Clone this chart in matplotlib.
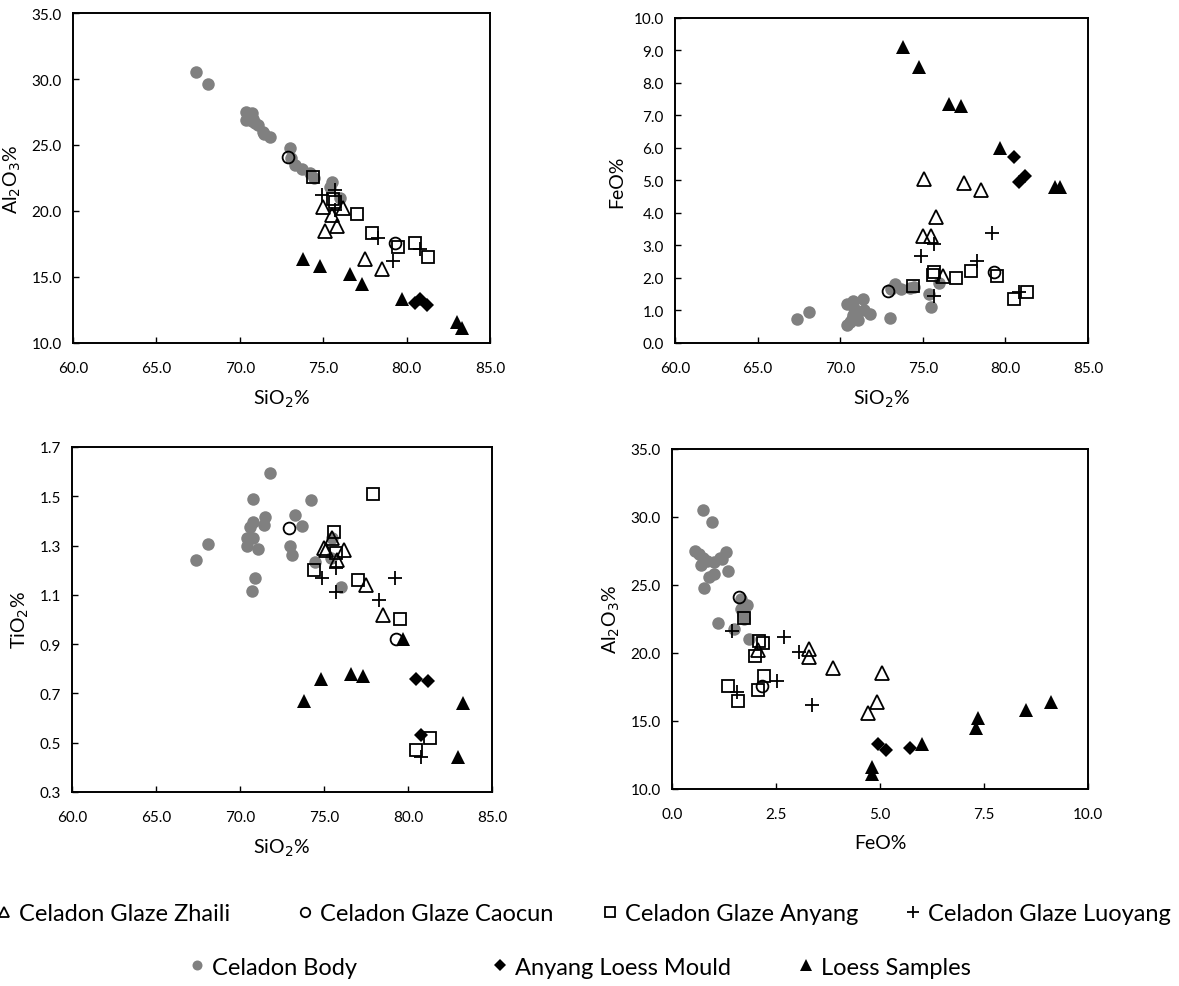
import matplotlib
matplotlib.use("Agg")
import matplotlib.pyplot as plt
from matplotlib.lines import Line2D

plt.rcParams['font.family'] = ['Lato', 'DejaVu Sans']

# Celadon Glaze Zhaili
zhaili_si = [75.0, 75.1, 75.5, 75.8, 76.2, 77.5, 78.5]
zhaili_al = [20.3, 18.5, 19.7, 18.9, 20.2, 16.4, 15.6]
zhaili_fe = [3.3, 5.05, 3.3, 3.87, 2.07, 4.92, 4.7]
zhaili_ti = [1.29, 1.28, 1.33, 1.24, 1.28, 1.14, 1.02]

# Celadon Glaze Caocun
caocun_si = [72.9, 79.3]
caocun_al = [24.1, 17.6]
caocun_fe = [1.6, 2.17]
caocun_ti = [1.37, 0.92]

# Celadon Glaze Anyang
anyang_si = [74.4, 75.6, 75.7, 77.0, 77.9, 79.5, 80.5, 81.3]
anyang_al = [22.55, 20.9, 20.7, 19.8, 18.3, 17.3, 17.6, 16.5]
anyang_fe = [1.74, 2.08, 2.19, 1.99, 2.2, 2.07, 1.35, 1.58]
anyang_ti = [1.20, 1.355, 1.27, 1.16, 1.51, 1.00, 0.47, 0.52]

# Celadon Glaze Luoyang
luoyang_si = [74.9, 75.7, 75.7, 78.3, 79.2, 80.8]
luoyang_al = [21.2, 21.6, 20.05, 17.95, 16.2, 17.1]
luoyang_fe = [2.69, 1.43, 3.05, 2.53, 3.37, 1.56]
luoyang_ti = [1.17, 1.21, 1.11, 1.08, 1.17, 0.44]

# Celadon Body
body_si = [67.4, 68.1, 70.4, 70.4, 70.6, 70.7, 70.75, 70.75, 70.8, 70.9, 71.07, 71.4,
           71.47, 71.8, 73.0, 73.1, 73.3, 73.7, 74.2, 74.44, 75.4, 75.5, 76.0]
body_al = [30.5, 29.6, 27.5, 26.9, 27.3, 27.0, 27.4, 26.8, 27.0, 26.7, 26.5, 26.0,
           25.8, 25.6, 24.8, 24.0, 23.5, 23.2, 22.9, 22.5, 21.8, 22.2, 21.0]
body_fe = [0.75, 0.95, 0.55, 1.2, 0.65, 0.75, 1.3, 0.85, 1.15, 1.0, 0.7, 1.35,
           1.0, 0.9, 0.78, 1.65, 1.8, 1.65, 1.7, 1.72, 1.5, 1.1, 1.85]
body_ti = [1.24, 1.305, 1.33, 1.30, 1.375, 1.115, 1.49, 1.395, 1.33, 1.17, 1.285, 1.385,
           1.416, 1.596, 1.30, 1.263, 1.425, 1.378, 1.486, 1.233, 1.25, 1.33, 1.132]

# Anyang Loess Mould
mould_si = [80.5, 80.8, 81.2]
mould_al = [13.05, 13.3, 12.9]
mould_fe = [5.71, 4.96, 5.15]
mould_ti = [0.76, 0.53, 0.75]

# Loess Samples
loess_si = [73.8, 74.8, 76.6, 77.3, 79.7, 83.0, 83.3]
loess_al = [16.4, 15.8, 15.2, 14.5, 13.3, 11.6, 11.1]
loess_fe = [9.1, 8.5, 7.35, 7.3, 6.0, 4.8, 4.8]
loess_ti = [0.67, 0.76, 0.78, 0.77, 0.92, 0.44, 0.66]

series = [
    # label, data, marker style
    ("Celadon Body", dict(si=body_si, al=body_al, fe=body_fe, ti=body_ti),
     dict(marker='o', ms=9, mfc='#808080', mec='#808080', mew=0)),
    ("Celadon Glaze Zhaili", dict(si=zhaili_si, al=zhaili_al, fe=zhaili_fe, ti=zhaili_ti),
     dict(marker='^', ms=9.5, mfc='none', mec='black', mew=1.3)),
    ("Celadon Glaze Caocun", dict(si=caocun_si, al=caocun_al, fe=caocun_fe, ti=caocun_ti),
     dict(marker='o', ms=8.5, mfc='none', mec='black', mew=1.3)),
    ("Celadon Glaze Anyang", dict(si=anyang_si, al=anyang_al, fe=anyang_fe, ti=anyang_ti),
     dict(marker='s', ms=9, mfc='none', mec='black', mew=1.3)),
    ("Celadon Glaze Luoyang", dict(si=luoyang_si, al=luoyang_al, fe=luoyang_fe, ti=luoyang_ti),
     dict(marker='+', ms=10.5, mec='black', mew=1.3)),
    ("Anyang Loess Mould", dict(si=mould_si, al=mould_al, fe=mould_fe, ti=mould_ti),
     dict(marker='D', ms=7.5, mfc='black', mec='black', mew=0)),
    ("Loess Samples", dict(si=loess_si, al=loess_al, fe=loess_fe, ti=loess_ti),
     dict(marker='^', ms=10.5, mfc='black', mec='black', mew=0)),
]

fig = plt.figure(figsize=(11.79, 9.87), dpi=100)

si_ticks = [60, 65, 70, 75, 80, 85]
panels = [
    # axes rect, x key, y key, xlim, ylim, xticks, yticks, xlabel, ylabel
    ([0.0619, 0.6515, 0.3537, 0.3343], 'si', 'al', (60, 85), (10, 35),
     si_ticks, [10, 15, 20, 25, 30, 35], "SiO$_2$%", "Al$_2$O$_3$%"),
    ([0.5725, 0.6515, 0.3503, 0.3293], 'si', 'fe', (60, 85), (0, 10),
     si_ticks, list(range(0, 11)), "SiO$_2$%", "FeO%"),
    ([0.0611, 0.1966, 0.3562, 0.3495], 'si', 'ti', (60, 85), (0.3, 1.7),
     si_ticks, [0.3, 0.5, 0.7, 0.9, 1.1, 1.3, 1.5, 1.7], "SiO$_2$%", "TiO$_2$%"),
    ([0.570, 0.1996, 0.3528, 0.3445], 'fe', 'al', (0, 10), (10, 35),
     [0, 2.5, 5, 7.5, 10], [10, 15, 20, 25, 30, 35], "FeO%", "Al$_2$O$_3$%"),
]

for rect, xk, yk, xlim, ylim, xt, yt, xl, yl in panels:
    ax = fig.add_axes(rect)
    for label, d, style in series:
        ax.plot(d[xk], d[yk], linestyle='none', **style)
    ax.set_xlim(*xlim)
    ax.set_ylim(*ylim)
    ax.set_xticks(xt)
    ax.set_xticklabels(["{:.1f}".format(v) for v in xt])
    ax.set_yticks(yt)
    ax.set_yticklabels(["{:.1f}".format(v) for v in yt])
    ax.tick_params(direction='in', length=4, width=1, labelsize=11)
    ax.tick_params(axis='x', pad=13)
    ax.tick_params(axis='y', pad=8)
    for sp in ax.spines.values():
        sp.set_linewidth(1.4)
    ax.set_xlabel(xl, fontsize=14, labelpad=9)
    ax.set_ylabel(yl, fontsize=14, labelpad=6)

# legend, two rows placed entry by entry
legend_pos = {
    "Celadon Glaze Zhaili": (-0.0025, 0.073),
    "Celadon Glaze Caocun": (0.2528, 0.073),
    "Celadon Glaze Anyang": (0.5115, 0.073),
    "Celadon Glaze Luoyang": (0.7685, 0.073),
    "Celadon Body": (0.1612, 0.019),
    "Anyang Loess Mould": (0.4182, 0.019),
    "Loess Samples": (0.6777, 0.019),
}
for label, d, style in series:
    st = dict(style)
    st['ms'] = st['ms'] * 0.8
    h = Line2D([], [], linestyle='none', **st)
    fig.legend([h], [label], loc='center left', bbox_to_anchor=legend_pos[label],
               frameon=False, fontsize=17, handlelength=0.6, handletextpad=0.35,
               borderpad=0, borderaxespad=0)

fig.savefig("out.png", dpi=100)
